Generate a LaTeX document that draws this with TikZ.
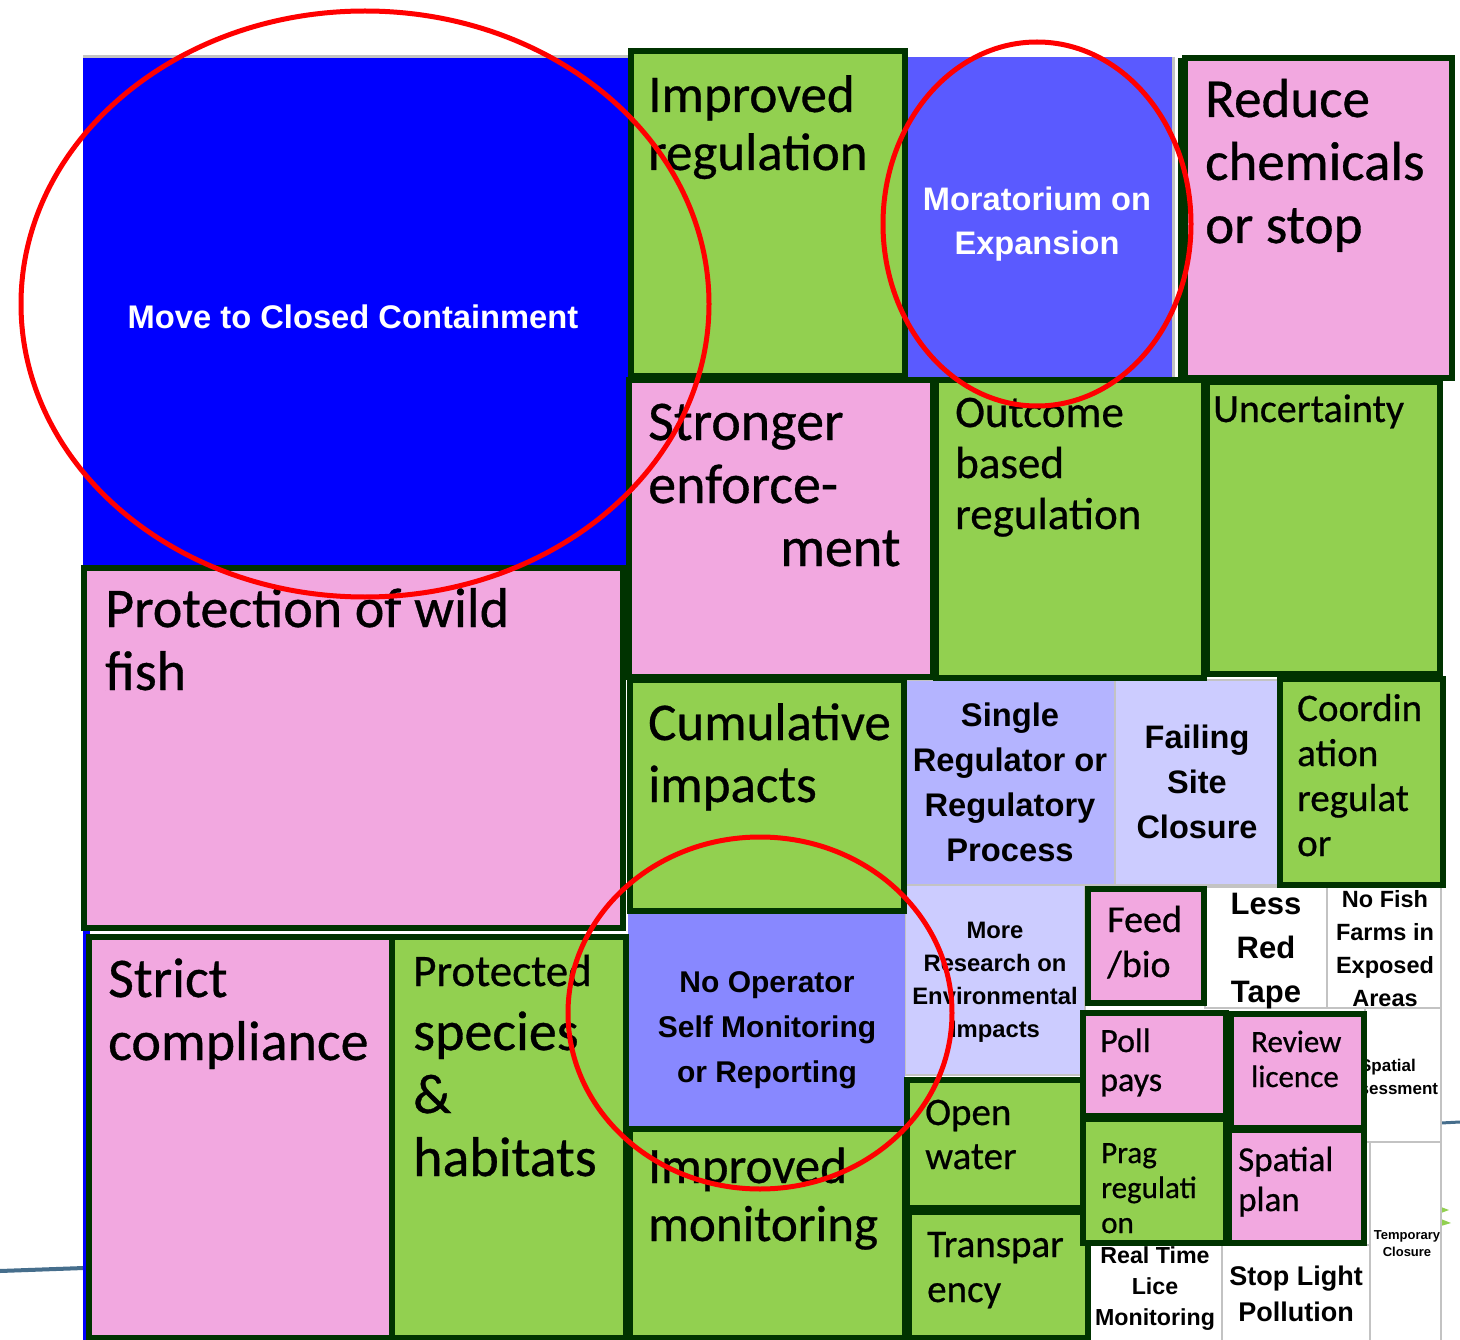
\documentclass[tikz,border=0pt]{standalone}
\usepackage{fontspec}
\setmainfont{Carlito}[FakeBold=0.6]
\newfontfamily\arialfont{Liberation Sans}
\newcommand{\fsz}[2]{\fontsize{#1}{#2}\selectfont}
\definecolor{cgreen}{RGB}{146,208,80}
\definecolor{cpink}{RGB}{242,168,224}
\definecolor{cblue}{RGB}{0,0,255}
\definecolor{cmora}{RGB}{90,90,255}
\definecolor{cnoop}{RGB}{136,136,255}
\definecolor{csingle}{RGB}{180,180,255}
\definecolor{cpale}{RGB}{204,204,255}
\definecolor{cedge}{RGB}{0,51,0}
\definecolor{cgrid}{RGB}{195,195,195}
\definecolor{csteel}{RGB}{70,110,140}

\begin{document}
\begin{tikzpicture}[x=1pt,y=-1pt,
  rim/.style={draw=cedge,line width=6pt},
  gbox/.style={rim,fill=cgreen},
  pbox/.style={rim,fill=cpink},
  cell/.style={draw=cgrid,line width=2pt},
  lbl/.style={anchor=base west,align=left,inner sep=0pt},
  clbl/.style={align=center,inner sep=0pt,execute at begin node=\arialfont\bfseries},
  ring/.style={draw=red,line width=5pt}]

\useasboundingbox (0,0) rectangle (1460,1340);
\fill[white] (0,0) rectangle (1460,1340);

\draw[csteel,line width=4pt] (0,1271) -- (84,1268);
\draw[csteel,line width=3pt] (1441,1123) -- (1460,1122);
\fill[cgreen] (1441,1207) -- (1449,1210) -- (1441,1213) -- cycle;
\fill[cgreen] (1441,1219) -- (1451,1223) -- (1441,1226) -- cycle;

\fill[cblue] (83,57) rectangle (628,567);
\draw[cgrid,line width=3pt] (83,57) -- (628,57);
\fill[cblue] (83,930) rectangle (90,1340);
\fill[cmora] (905,57) rectangle (1172,378);
\draw[cgrid,line width=3pt] (1173,57) -- (1173,378);

\draw[cell,fill=white] (1205,887) rectangle (1327,1008);
\draw[cell,fill=white] (1327,887) rectangle (1441,1008);
\draw[cell,fill=white] (1365,1008) rectangle (1441,1142);
\draw[cell,fill=white] (1370,1142) rectangle (1441,1341);
\draw[cell,fill=white] (1090,1245) rectangle (1222,1341);
\draw[cell,fill=white] (1222,1245) rectangle (1370,1341);
\draw[cell,fill=csingle] (905,680) rectangle (1115,885);
\draw[cell,fill=cpale] (1115,680) rectangle (1278,885);
\draw[cell,fill=cpale] (905,885) rectangle (1085,1075);
\fill[cnoop] (628,912) rectangle (905,1128);

\node[text=white,clbl,font=\fsz{32.7}{40}] (tMove) at (353,317) {Move to Closed Containment};
\node[text=white,clbl,font=\fsz{32.6}{44}] (tMora) at (1037,224) {Moratorium on\\Expansion};
\node[clbl,font=\fsz{32.7}{45}] (tSingle) at (1010,782) {Single\\Regulator or\\Regulatory\\Process};
\node[clbl,font=\fsz{32.5}{45}] (tFail) at (1197,782) {Failing\\Site\\Closure};
\node[clbl,font=\fsz{23.8}{33}] (tMore) at (995,982) {More\\Research on\\Environmental\\Impacts};
\node[clbl,font=\fsz{31}{44}] (tLess) at (1266,951) {Less\\Red\\Tape};
\node[clbl,font=\fsz{23.5}{33}] (tNoFish) at (1385,949) {No Fish\\Farms in\\Exposed\\Areas};
\node[clbl,font=\fsz{17}{23}] (tSpAss) at (1388,1077) {Spatial\\Assessment};
\node[clbl,font=\fsz{13}{17}] (tTemp) at (1407,1244) {Temporary\\Closure};
\node[clbl,font=\fsz{23.2}{31}] (tLice) at (1155,1289) {Real Time\\Lice\\Monitoring};
\node[clbl,font=\fsz{27}{36}] (tStop) at (1296,1294) {Stop Light\\Pollution};
\node[clbl,font=\fsz{30}{45}] (tNoOp) at (767,1030) {No Operator\\Self Monitoring\\or Reporting};

\draw[gbox] (631,51) rectangle (905,376);
\draw[pbox] (1185,58) rectangle (1452,378);
\draw[rim] (1181,58) -- (1181,378);
\draw[pbox] (629,380) rectangle (933,677);
\draw[gbox] (936,380) rectangle (1204,678);
\draw[gbox] (1207,382) rectangle (1440,674);
\draw[pbox] (84,568) rectangle (623,928);
\draw[gbox] (630,680) rectangle (904,911);
\draw[gbox] (1280,679) rectangle (1443,885);
\draw[pbox] (89,937) rectangle (392,1338);
\draw[gbox] (392,937) rectangle (626,1338);
\draw[gbox] (630,1129) rectangle (905,1338);
\draw[gbox] (907,1080) rectangle (1087,1208);
\draw[gbox] (909,1212) rectangle (1088,1338);
\draw[pbox] (1088,889) rectangle (1204,1003);
\draw[pbox] (1083,1013) rectangle (1226,1116);
\draw[gbox] (1083,1119) rectangle (1226,1243);
\draw[pbox] (1231,1014) rectangle (1364,1128);
\draw[pbox] (1229,1130) rectangle (1364,1243);

\node[lbl,font=\fsz{53}{58}] (tImpReg) at (648,170) {Improved\\regulation};
\node[lbl,font=\fsz{55}{63}] (tReduce) at (1205,243) {Reduce\\chemicals\\or stop};
\node[lbl,font=\fsz{56}{63}] (tStrong) at (648,566) {Stronger\\enforce-\\\hspace*{132pt}ment};
\node[lbl,font=\fsz{45}{51}] (tOutcome) at (955,529) {Outcome\\based\\regulation};
\node[lbl,font=\fsz{40}{48}] (tUncert) at (1213,422) {Uncertainty};
\node[lbl,font=\fsz{56}{63}] (tProtect) at (105,690) {Protection of wild\\fish};
\node[lbl,font=\fsz{53}{62}] (tCumul) at (648,802) {Cumulative\\impacts};
\node[lbl,font=\fsz{39}{45}] (tCoord) at (1297,856) {Coordin\\ation\\regulat\\or};
\node[lbl,font=\fsz{38}{45}] (tFeed) at (1107,977) {Feed\\/bio};
\node[lbl,font=\fsz{34}{39}] (tPoll) at (1100,1091) {Poll\\pays};
\node[lbl,font=\fsz{31}{35}] (tReview) at (1251,1087) {Review\\licence};
\node[lbl,font=\fsz{31}{35}] (tPrag) at (1101,1233) {Prag\\regulati\\on};
\node[lbl,font=\fsz{35}{40}] (tSpPlan) at (1238,1211) {Spatial\\plan};
\node[lbl,font=\fsz{39}{44}] (tOpen) at (925,1169) {Open\\water};
\node[lbl,font=\fsz{39}{45}] (tTransp) at (927,1302) {Transpar\\ency};
\node[lbl,font=\fsz{51}{58}] (tImpMon) at (648,1241) {Improved\\monitoring};
\node[lbl,font=\fsz{56}{63}] (tStrict) at (108,1060) {Strict\\compliance};
\node[lbl,font=\fsz{45}{50}] (tProtA) at (413,986) {Protected};
\node[lbl,font=\fsz{56}{63}] (tProtB) at (413,1176) {species\\\&\\habitats};

\draw[ring] (365,304) ellipse [x radius=344, y radius=293];
\draw[ring] (1037,224) ellipse [x radius=154, y radius=182];
\draw[ring] (760,1013) ellipse [x radius=192, y radius=176];

\end{tikzpicture}
\end{document}
